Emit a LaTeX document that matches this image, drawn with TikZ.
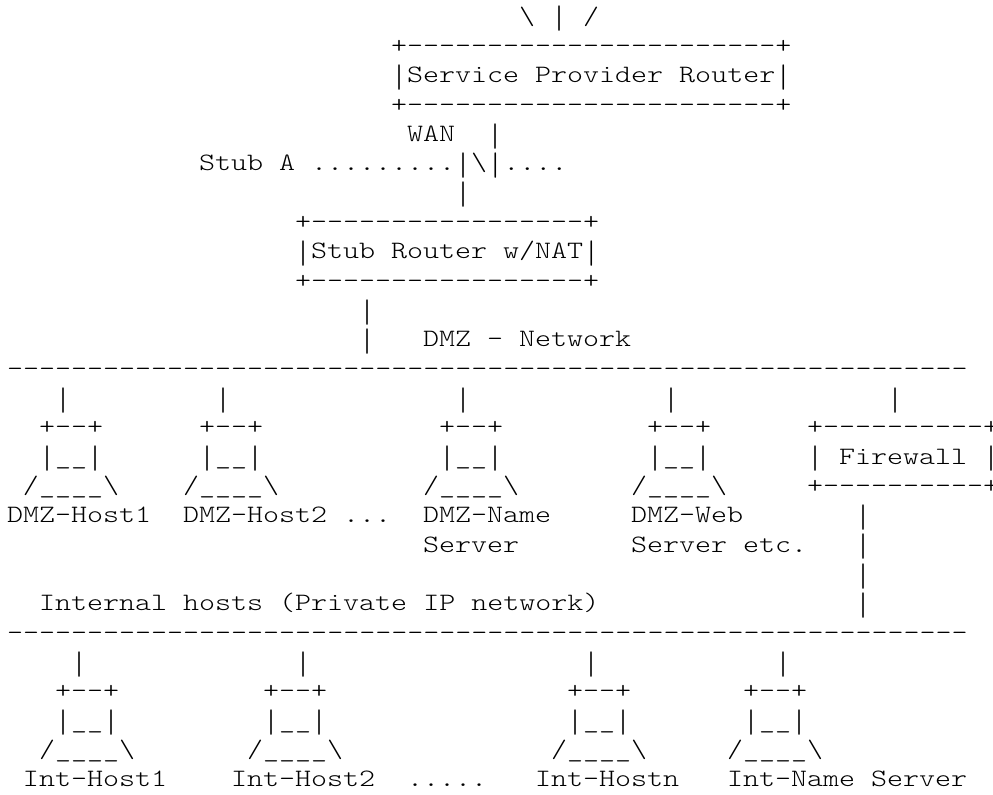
\documentclass[tikz,border=0pt]{standalone}
\usepackage{fontspec}
\newfontfamily\asciifont[FakeStretch=1.22]{Latin Modern Mono Light}
\newfontfamily\barfont[FakeStretch=0.94]{Latin Modern Mono Light}
\tikzset{
    asciitext/.style={anchor=base west, inner sep=0pt, outer sep=0pt, font=\asciifont\fontsize{25}{29}\selectfont},
}
\newcommand{\bsl}{\textbackslash}
\newcommand{\vb}{\raisebox{-4.5pt}{\barfont\fontsize{32.5}{32.5}\selectfont|}}

\begin{document}
\begin{tikzpicture}[x=16pt, y=-29.33pt]
    \useasboundingbox (-0.4375,-0.8285) rectangle (61.625,26.243);
    % service provider router
    \node[asciitext] (upleft) at (32,0) {\bsl};
    \node[asciitext] (upmid) at (34,0) {\vb};
    \node[asciitext] (upright) at (36,0) {/};
    \node[asciitext] (sptop) at (24,1) {+-----------------------+};
    \node[asciitext] (sprouter) at (24,2) {\vb Service Provider Router\vb};
    \node[asciitext] (spbot) at (24,3) {+-----------------------+};
    % WAN link
    \node[asciitext] (wan) at (25,4) {WAN};
    \node[asciitext] (wanup) at (30,4) {\vb};
    \node[asciitext] (stuba) at (12,5) {Stub A .........\vb\bsl\vb....};
    \node[asciitext] (wandown) at (28,6) {\vb};
    % stub router
    \node[asciitext] (stubtop) at (18,7) {+-----------------+};
    \node[asciitext] (stubrouter) at (18,8) {\vb Stub Router w/NAT\vb};
    \node[asciitext] (stubbot) at (18,9) {+-----------------+};
    \node[asciitext] (dmzupa) at (22,10) {\vb};
    \node[asciitext] (dmzupb) at (22,11) {\vb};
    \node[asciitext] (dmznet) at (26,11) {DMZ - Network};
    \node[asciitext] (dmzline) at (0,12) {------------------------------------------------------------};
    % DMZ hosts
    \foreach \col/\drop in {2/3, 12/13, 27/28, 40/41} {
        \node[asciitext] (dmzdrop\col) at (\drop,13) {\vb};
        \node[asciitext] (dmztop\col) at (\col,14) {+--+};
        \node[asciitext] (dmzscr\col) at (\col,15) {\vb\_\_\vb};
        \node[asciitext] (dmzbase\col) at (\col-1,16) {/\_\_\_\_\bsl};
    }
    \node[asciitext] (dmzhosta) at (0,17) {DMZ-Host1};
    \node[asciitext] (dmzhostb) at (11,17) {DMZ-Host2};
    \node[asciitext] (dmzdots) at (21,17) {...};
    \node[asciitext] (dmzname) at (26,17) {DMZ-Name};
    \node[asciitext] (dmznameb) at (26,18) {Server};
    \node[asciitext] (dmzweb) at (39,17) {DMZ-Web};
    \node[asciitext] (dmzwebb) at (39,18) {Server etc.};
    % firewall
    \node[asciitext] (fwdrop) at (55,13) {\vb};
    \node[asciitext] (fwtop) at (50,14) {+----------+};
    \node[asciitext] (firewall) at (50,15) {\vb{} Firewall \vb};
    \node[asciitext] (fwbot) at (50,16) {+----------+};
    \foreach \row in {17,18,19,20} {
        \node[asciitext] (fwlink\row) at (53,\row) {\vb};
    }
    % internal hosts
    \node[asciitext] (intnet) at (2,20) {Internal hosts (Private IP network)};
    \node[asciitext] (intline) at (0,21) {------------------------------------------------------------};
    \foreach \col/\drop in {3/4, 16/18, 35/36, 46/48} {
        \node[asciitext] (intdrop\col) at (\drop,22) {\vb};
        \node[asciitext] (inttop\col) at (\col,23) {+--+};
        \node[asciitext] (intscr\col) at (\col,24) {\vb\_\_\vb};
        \node[asciitext] (intbase\col) at (\col-1,25) {/\_\_\_\_\bsl};
    }
    \node[asciitext] (inthosta) at (1,26) {Int-Host1};
    \node[asciitext] (inthostb) at (14,26) {Int-Host2};
    \node[asciitext] (intdots) at (25,26) {.....};
    \node[asciitext] (inthostn) at (33,26) {Int-Hostn};
    \node[asciitext] (intname) at (45,26) {Int-Name Server};
\end{tikzpicture}
\end{document}
